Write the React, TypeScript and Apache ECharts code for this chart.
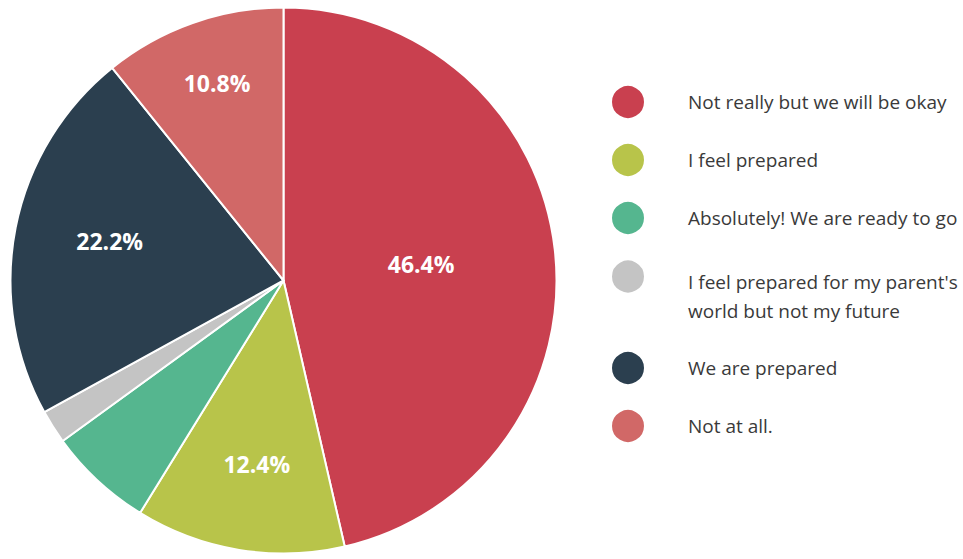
import React, { useEffect, useRef } from "react";
import * as echarts from "echarts";

const categories = [
  "Not really but we will be okay",
  "I feel prepared",
  "Absolutely! We are ready to go",
  "I feel prepared for my parent's world but not my future",
  "We are prepared",
  "Not at all.",
];
const values = [46.4, 12.4, 6.2, 2.0, 22.2, 10.8];
const colors = ["#C9404F", "#B8C44A", "#55B68F", "#C4C4C4", "#2B3F4F", "#D16867"];
const showLabel = [true, true, false, false, true, true];
// label nudges (px) from ECharts' default inside position
const labelNudge: [number, number][] = [
  [-1, -1],
  [-4, 46],
  [0, 0],
  [0, 0],
  [-37, -12],
  [-20, -66],
];

const FONT = "'Open Sans', Lato, sans-serif";

export default function App() {
  const ref = useRef<HTMLDivElement>(null);
  useEffect(() => {
    if (!ref.current) return;
    const chart = echarts.init(ref.current, undefined, { renderer: "svg" });
    const legendBase = {
      orient: "vertical" as const,
      left: 610,
      itemWidth: 34,
      itemHeight: 34,
      itemGap: 22,
      padding: 0,
      icon: "circle",
      selectedMode: false,
    };
    const txt = { fontFamily: FONT, fontSize: 19, color: "#3a3a3a", padding: [0, 0, 0, 38] };
    chart.setOption({
      animation: false,
      backgroundColor: "#ffffff",
      color: colors,
      legend: [
        {
          ...legendBase,
          top: 84,
          data: categories.slice(0, 3),
          textStyle: txt,
        },
        {
          ...legendBase,
          top: 228,
          data: [categories[3]],
          formatter: () =>
            "{gap| }\n{t|I feel prepared for my parent's}\n{t|world but not my future}",
          textStyle: {
            ...txt,
            rich: {
              gap: { fontSize: 10, lineHeight: 39, height: 39 },
              t: { fontFamily: FONT, fontSize: 19, lineHeight: 29, color: "#3a3a3a" },
            },
          },
        },
        {
          ...legendBase,
          top: 350,
          data: categories.slice(4),
          textStyle: txt,
        },
      ],
      series: [
        {
          type: "pie",
          center: [283.5, 280.5],
          radius: 273,
          startAngle: 90,
          clockwise: true,
          avoidLabelOverlap: false,
          itemStyle: { borderColor: "#ffffff", borderWidth: 2 },
          label: {
            show: true,
            position: "inside",
            formatter: (p: any) => `${p.value.toFixed(1)}%`,
            color: "#ffffff",
            fontFamily: FONT,
            fontWeight: "bold",
            fontSize: 23,
          },
          labelLine: { show: false },
          labelLayout: (p: any) => {
            const n = labelNudge[p.dataIndex] || [0, 0];
            return { dx: n[0], dy: n[1] };
          },
          emphasis: { disabled: true },
          data: categories.map((name, i) => ({
            name,
            value: values[i],
            label: { show: showLabel[i] },
          })),
        },
      ],
    });
    return () => chart.dispose();
  }, []);
  return (
    <div
      ref={ref}
      style={{ position: "fixed", left: 0, top: 0, width: 963, height: 559 }}
    />
  );
}
